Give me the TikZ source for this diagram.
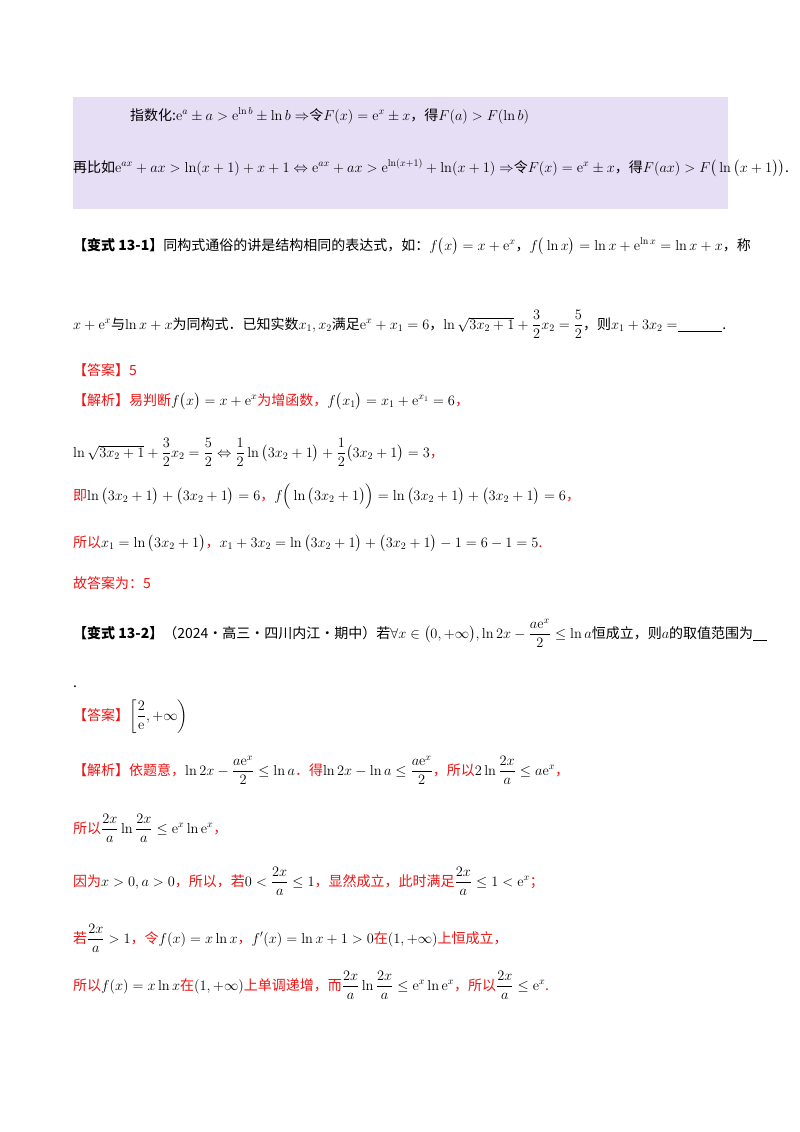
\documentclass[tikz,border=0pt]{standalone}
\usepackage{amsmath,amssymb}
\usepackage[no-math]{fontspec}
\setmainfont{Noto Sans CJK SC}
\definecolor{boxbg}{RGB}{230,222,245}
\definecolor{ansred}{RGB}{235,20,20}
\tikzset{ln/.style={anchor=base west,inner sep=0pt,font=\fontsize{14}{16}\selectfont},
 rd/.style={ln,text=ansred}}
\begin{document}
\begin{tikzpicture}[x=1pt,y=1pt]
\path[use as bounding box] (0,0) rectangle (800,-1132);
\fill[boxbg] (73,-97) rectangle (728,-209);
\node[ln] (b1) at (130,-120) {指数化:$\mathrm{e}^{a}\pm a>\mathrm{e}^{\ln b}\pm\ln b\Rightarrow$令$F(x)=\mathrm{e}^{x}\pm x$，得$F(a)>F(\ln b)$};
\node[ln] (b2) at (73,-172) {再比如$\mathrm{e}^{ax}+ax>\ln(x+1)+x+1\Leftrightarrow\mathrm{e}^{ax}+ax>\mathrm{e}^{\ln(x+1)}+\ln(x+1)\Rightarrow$令$F(x)=\mathrm{e}^{x}\pm x$，得$F(ax)>F\big(\ln\big(x+1\big)\big)$.};
\node[ln] (p1) at (73,-250) {\textbf{【变式 13-1】}同构式通俗的讲是结构相同的表达式，如：$f\big(x\big)=x+\mathrm{e}^{x}$，$f\big(\ln x\big)=\ln x+\mathrm{e}^{\ln x}=\ln x+x$，称};
\node[ln] (p2) at (73,-329) {$x+\mathrm{e}^{x}$与$\ln x+x$为同构式．已知实数$x_1,x_2$满足$\mathrm{e}^{x}+x_1=6$，$\ln\sqrt{3x_2+1}+\dfrac32x_2=\dfrac52$，则$x_1+3x_2=$\underline{\hspace{3.2em}}.};
\node[rd] (a1) at (73,-375) {【答案】5};
\node[rd] (s1) at (73,-405) {【解析】易判断\textcolor{black}{$f\big(x\big)=x+\mathrm{e}^{x}$}为增函数，\textcolor{black}{$f\big(x_1\big)=x_1+\mathrm{e}^{x_1}=6$}，};
\node[ln] (s2) at (73,-457) {$\ln\sqrt{3x_2+1}+\dfrac32x_2=\dfrac52\Leftrightarrow\dfrac12\ln\big(3x_2+1\big)+\dfrac12\big(3x_2+1\big)=3$\textcolor{ansred}{，}};
\node[rd] (s3) at (73,-500) {即\textcolor{black}{$\ln\big(3x_2+1\big)+\big(3x_2+1\big)=6$}，\textcolor{black}{$f\Big(\ln\big(3x_2+1\big)\Big)=\ln\big(3x_2+1\big)+\big(3x_2+1\big)=6$}，};
\node[rd] (s4) at (73,-547) {所以\textcolor{black}{$x_1=\ln\big(3x_2+1\big)$}，\textcolor{black}{$x_1+3x_2=\ln\big(3x_2+1\big)+\big(3x_2+1\big)-1=6-1=5$}.};
\node[rd] (s5) at (73,-588) {故答案为：5};
\node[ln] (q2) at (73,-638) {\textbf{【变式 13-2】}（2024·高三·四川内江·期中）若$\forall x\in\big(0,+\infty\big),\ln2x-\dfrac{a\mathrm{e}^{x}}{2}\le\ln a$恒成立，则$a$的取值范围为\underline{\hspace{1em}}};
\node[ln] (q3) at (73,-687) {.};
\node[rd] (a2) at (73,-720) {【答案】\textcolor{black}{$\left[\dfrac{2}{\mathrm{e}},+\infty\right)$}};
\node[rd] (t1) at (73,-775) {【解析】依题意，\textcolor{black}{$\ln2x-\dfrac{a\mathrm{e}^{x}}{2}\le\ln a$}．得\textcolor{black}{$\ln2x-\ln a\le\dfrac{a\mathrm{e}^{x}}{2}$}，所以\textcolor{black}{$2\ln\dfrac{2x}{a}\le a\mathrm{e}^{x}$}，};
\node[rd] (t2) at (73,-833) {所以\textcolor{black}{$\dfrac{2x}{a}\ln\dfrac{2x}{a}\le\mathrm{e}^{x}\ln\mathrm{e}^{x}$}，};
\node[rd] (t3) at (73,-886) {因为\textcolor{black}{$x>0,a>0$}，所以，若\textcolor{black}{$0<\dfrac{2x}{a}\le1$}，显然成立，此时满足\textcolor{black}{$\dfrac{2x}{a}\le1<\mathrm{e}^{x}$}；};
\node[rd] (t4) at (73,-943) {若\textcolor{black}{$\dfrac{2x}{a}>1$}，令\textcolor{black}{$f(x)=x\ln x$}，\textcolor{black}{$f'(x)=\ln x+1>0$}在\textcolor{black}{$(1,+\infty)$}上恒成立，};
\node[rd] (t5) at (73,-990) {所以\textcolor{black}{$f(x)=x\ln x$}在\textcolor{black}{$(1,+\infty)$}上单调递增，而\textcolor{black}{$\dfrac{2x}{a}\ln\dfrac{2x}{a}\le\mathrm{e}^{x}\ln\mathrm{e}^{x}$}，所以\textcolor{black}{$\dfrac{2x}{a}\le\mathrm{e}^{x}$}.};
\end{tikzpicture}
\end{document}
